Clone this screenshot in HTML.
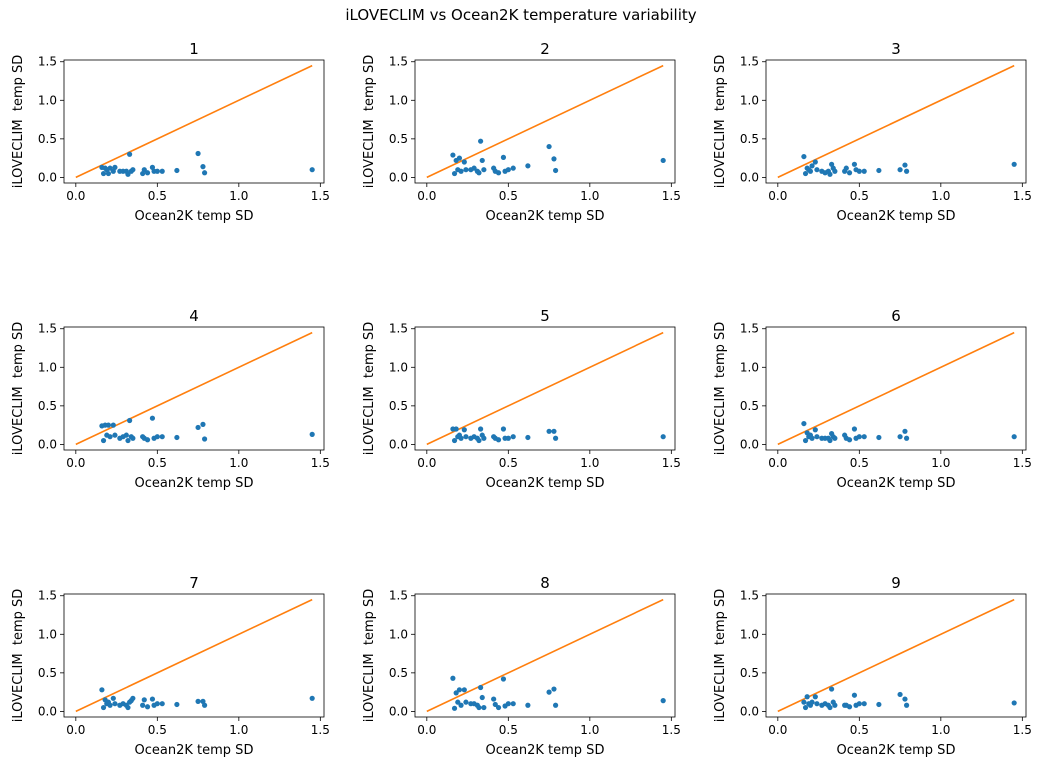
<!DOCTYPE html>
<html><head><meta charset="utf-8"><style>
body{margin:0;background:#fff}
svg{display:block;font-family:"DejaVu Sans","Liberation Sans",sans-serif}
</style></head><body>
<svg id="fig" width="1042" height="772" viewBox="0 0 1042 772" xmlns="http://www.w3.org/2000/svg">
<rect width="1042" height="772" fill="#fff"/>
<text x="521" y="20" text-anchor="middle" font-size="15">iLOVECLIM vs Ocean2K temperature variability</text>
</svg>
<script>
const xVals=[0.16,0.17,0.18,0.19,0.2,0.21,0.23,0.24,0.27,0.29,0.31,0.32,0.33,0.34,0.35,0.41,0.42,0.44,0.47,0.48,0.5,0.53,0.62,0.75,0.78,0.79,1.45];
const y1=[0.13,0.05,0.12,0.10,0.05,0.12,0.08,0.13,0.08,0.08,0.08,0.04,0.30,0.08,0.10,0.05,0.10,0.06,0.13,0.08,0.08,0.08,0.09,0.31,0.14,0.06,0.10];
const y2=[0.29,0.05,0.22,0.10,0.25,0.08,0.20,0.10,0.10,0.12,0.08,0.06,0.47,0.22,0.10,0.12,0.08,0.06,0.26,0.08,0.10,0.12,0.15,0.40,0.24,0.09,0.22];
const y3=[0.27,0.05,0.12,0.10,0.08,0.15,0.20,0.10,0.08,0.06,0.08,0.04,0.17,0.12,0.08,0.08,0.12,0.06,0.17,0.10,0.08,0.08,0.09,0.10,0.16,0.08,0.17];
const y4=[0.24,0.05,0.25,0.12,0.25,0.10,0.25,0.12,0.08,0.10,0.12,0.05,0.31,0.10,0.08,0.10,0.08,0.06,0.34,0.08,0.10,0.10,0.09,0.22,0.26,0.07,0.13];
const y5=[0.20,0.05,0.20,0.10,0.12,0.08,0.19,0.10,0.08,0.10,0.08,0.05,0.20,0.12,0.08,0.10,0.08,0.06,0.20,0.08,0.08,0.10,0.09,0.17,0.17,0.08,0.10];
const y6=[0.27,0.05,0.15,0.10,0.12,0.08,0.19,0.10,0.08,0.08,0.08,0.05,0.14,0.10,0.08,0.12,0.08,0.06,0.20,0.08,0.10,0.10,0.09,0.10,0.17,0.08,0.10];
const y7=[0.28,0.05,0.15,0.10,0.12,0.08,0.17,0.10,0.08,0.10,0.08,0.05,0.12,0.14,0.17,0.08,0.15,0.06,0.16,0.08,0.10,0.10,0.09,0.13,0.13,0.08,0.17];
const y8=[0.43,0.04,0.24,0.12,0.28,0.08,0.28,0.12,0.10,0.10,0.08,0.05,0.31,0.18,0.05,0.16,0.09,0.05,0.42,0.07,0.10,0.10,0.08,0.25,0.29,0.08,0.14];
const y9=[0.12,0.05,0.19,0.10,0.08,0.12,0.19,0.10,0.08,0.10,0.08,0.05,0.29,0.12,0.08,0.08,0.08,0.06,0.21,0.08,0.10,0.10,0.09,0.22,0.16,0.08,0.11];
const panelY=[y1,y2,y3,y4,y5,y6,y7,y8,y9];
const ticks=[0,0.5,1,1.5];
const tickLabels=["0.0","0.5","1.0","1.5"];
const lineMax=1.45;

const NS="http://www.w3.org/2000/svg";
const svg=document.getElementById('fig');
function mk(tag,attrs,parent){const e=document.createElementNS(NS,tag);for(const k in attrs)e.setAttribute(k,attrs[k]);(parent||svg).appendChild(e);return e;}
const W=260,H=123,lo=-0.0725,hi=1.5225;
const colL=[64,415,766],rowT=[60,327,594];
panelY.forEach((ys,i)=>{
  const L=colL[i%3],T=rowT[Math.floor(i/3)];
  const sx=v=>L+(v-lo)/(hi-lo)*W, sy=v=>T+H-(v-lo)/(hi-lo)*H;
  const g=mk('g',{});
  
  
  const t=mk('text',{x:L+W/2,y:T-6,'text-anchor':'middle','font-size':'15'},g);t.textContent=String(i+1);
  
  
  ticks.forEach((v,k)=>{
    mk('line',{x1:sx(v),x2:sx(v),y1:T+H,y2:T+H+4,stroke:'#000','stroke-width':0.8},g);
    const tx=mk('text',{x:sx(v),y:T+H+17,'text-anchor':'middle','font-size':'12'},g);tx.textContent=tickLabels[k];
    
    
    mk('line',{x1:L-4,x2:L,y1:sy(v),y2:sy(v),stroke:'#000','stroke-width':0.8},g);
    const ty=mk('text',{x:L-7,y:sy(v)+4,'text-anchor':'end','font-size':'12'},g);ty.textContent=tickLabels[k];
    
    
  });
  const xl=mk('text',{x:L+W/2,y:T+H+37,'text-anchor':'middle','font-size':'13'},g);xl.textContent='Ocean2K temp SD';
  
  
  const yx=L-42,yy=T+H/2;
  const yl=mk('text',{x:yx,y:yy,'text-anchor':'middle','font-size':'13',transform:`rotate(-90 ${yx} ${yy})`},g);yl.textContent='iLOVECLIM \u00a0temp SD';
  
  
  const ln=mk('line',{x1:sx(0),y1:sy(0),x2:sx(lineMax),y2:sy(lineMax),stroke:'#ff7f0e','stroke-width':1.6},g);
  
  
  xVals.forEach((x,j)=>{
    const c=mk('circle',{cx:sx(x),cy:sy(ys[j]),r:2.6,fill:'#1f77b4'},g);
    
    
  });
  const fr=mk('rect',{x:L,y:T,width:W,height:H,fill:'none',stroke:'#000','stroke-width':0.8},g);
  
  
});
</script>
</body></html>
